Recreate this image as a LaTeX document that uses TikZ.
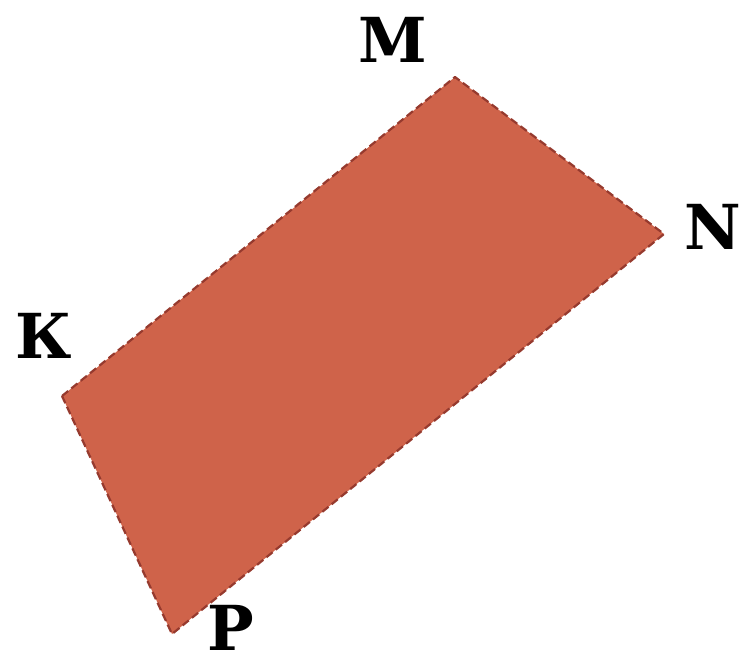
\documentclass[tikz,border=0pt]{standalone}
\usepackage{fontspec}
\setmainfont{DejaVu Serif}
\usepackage{tikz}
\usetikzlibrary{positioning, calc}
\usepackage{xcolor}
\definecolor{facecolor}{RGB}{207,99,74}
\definecolor{edgecolor}{RGB}{150,58,46}
\tikzset{
  face/.style  = {fill=facecolor, draw=edgecolor, dashed, dash pattern=on 4pt off 2pt,
                  line width=1.1pt, line join=round},
  vlabel/.style = {font=\fontsize{31}{31}\selectfont\bfseries, inner sep=0pt, anchor=center},
}
\begin{document}
\begin{tikzpicture}[x=0.5pt, y=-0.5pt]
  \useasboundingbox (0,0) rectangle (742,666);
  % vertices
  \foreach \i/\x/\y in {k/62/396, m/455/77, n/664/234, p/172/634} {
    \coordinate (\i) at (\x, \y);
  }
  \draw[face] (k) -- (m) -- (n) -- (p) -- cycle;
  % labels
  \node[vlabel] (lk) at (44, 336) {К};
  \node[vlabel] (lm) at (393, 40) {M};
  \node[vlabel] (ln) at (713, 227) {N};
  \node[vlabel] (lp) at (231, 628) {P};
\end{tikzpicture}
\end{document}
